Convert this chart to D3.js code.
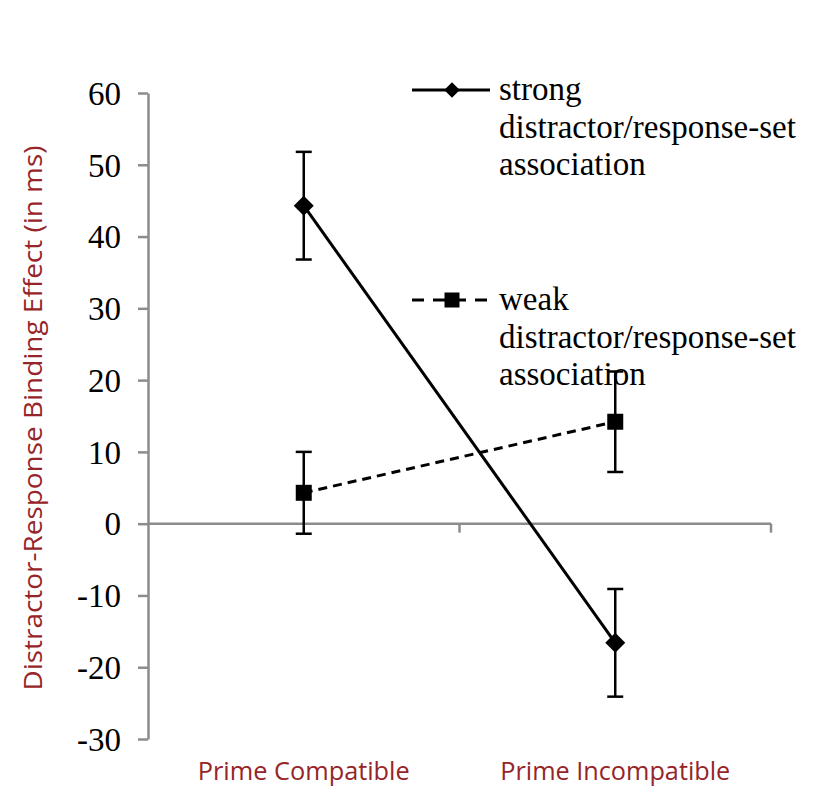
<!DOCTYPE html>
<html><head><meta charset="utf-8">
<script src="https://cdn.jsdelivr.net/npm/d3@7"></script>
<style>body{margin:0;background:#fff}
.serif{font-family:'Liberation Serif','DejaVu Serif',serif}
.sans{font-family:'Open Sans','Noto Sans',sans-serif}</style>
</head><body>
<svg id="c" width="821" height="806"></svg>
<script>
const categories = ["Prime Compatible", "Prime Incompatible"];
const strongValues = [44.3, -16.6];
const strongErrors = [7.5, 7.5];
const weakValues = [4.3, 14.2];
const weakErrors = [5.7, 7.0];
const yTicks = [60, 50, 40, 30, 20, 10, 0, -10, -20, -30];

(function () {
const svg = d3.select("#c");
const mLeft = 148, mRight = 771, mTop = 93, mBottom = 739;
const y = d3.scaleLinear().domain([-30, 60]).range([mBottom, mTop]);
const x = d3.scaleBand().domain(categories).range([mLeft, mRight]);
const axisColor = "#8c8c8c";
const red = "#962429";

// y axis
const yAxis = d3.axisLeft(y).tickValues(yTicks).tickSize(10).tickSizeOuter(0).tickPadding(17).tickFormat(d => String(d));
const gy = svg.append("g").attr("transform", `translate(${mLeft},0)`).call(yAxis);
gy.attr("font-family", null).attr("font-size", null);
gy.select(".domain").attr("stroke", axisColor).attr("stroke-width", 2.5);
gy.selectAll(".tick line").attr("stroke", axisColor).attr("stroke-width", 2.5);
gy.selectAll(".tick text").attr("class", "serif").style("font-size", "33px").attr("fill", "#000").attr("dy", "0.34em");

// x axis at zero
const gx = svg.append("g").attr("transform", `translate(0,${y(0)})`);
gx.append("line").attr("x1", mLeft).attr("x2", mRight).attr("stroke", axisColor).attr("stroke-width", 2.5);
[mLeft + x.step(), mRight].forEach(px => {
  gx.append("line").attr("x1", px).attr("x2", px).attr("y1", 0).attr("y2", 9).attr("stroke", axisColor).attr("stroke-width", 2.5);
});

// category labels
const labelWidths = [212, 230];
categories.forEach((c, i) => {
  svg.append("text").attr("class", "sans").attr("x", x(c) + x.bandwidth() / 2).attr("y", 780)
    .attr("text-anchor", "middle").style("font-size", "26px").attr("fill", red)
    .attr("textLength", labelWidths[i]).attr("lengthAdjust", "spacingAndGlyphs").text(c);
});

// y title
svg.append("text").attr("class", "sans").attr("transform", `translate(42,418) rotate(-90)`)
  .attr("text-anchor", "middle").style("font-size", "25px").attr("fill", red)
  .attr("textLength", 545).attr("lengthAdjust", "spacingAndGlyphs")
  .text("Distractor-Response Binding Effect (in ms)");

const cx = c => x(c) + x.bandwidth() / 2;
const line = d3.line().x(d => d[0]).y(d => d[1]);

function drawSeries(vals, errs, dash, diamond) {
  const pts = categories.map((c, i) => [cx(c), y(vals[i])]);
  svg.append("path").attr("d", line(pts)).attr("fill", "none").attr("stroke", "#000")
    .attr("stroke-width", 3).attr("stroke-dasharray", dash);
  categories.forEach((c, i) => {
    const px = cx(c);
    const g = svg.append("g").attr("stroke", "#000").attr("stroke-width", 2.5);
    g.append("line").attr("x1", px).attr("x2", px).attr("y1", y(vals[i] + errs[i])).attr("y2", y(vals[i] - errs[i]));
    [vals[i] + errs[i], vals[i] - errs[i]].forEach(v => {
      g.append("line").attr("x1", px - 8).attr("x2", px + 8).attr("y1", y(v)).attr("y2", y(v));
    });
    svg.append("path").attr("d", d3.symbol().type(d3.symbolSquare).size(diamond ? 200 : 256)())
      .attr("transform", `translate(${px},${y(vals[i])})` + (diamond ? " rotate(45)" : ""))
      .attr("fill", "#000");
  });
}
drawSeries(strongValues, strongErrors, null, true);
drawSeries(weakValues, weakErrors, "9,6", false);

// legend
const legendY = [90, 300];
const legendLines = [["strong", "distractor/response-set", "association"], ["weak", "distractor/response-set", "association"]];
legendLines.forEach((lines, i) => {
  const ly = legendY[i];
  svg.append("line").attr("x1", 412).attr("x2", 490).attr("y1", ly).attr("y2", ly)
    .attr("stroke", "#000").attr("stroke-width", 3).attr("stroke-dasharray", i === 1 ? "12,9" : null);
  svg.append("path").attr("d", d3.symbol().type(d3.symbolSquare).size(i === 1 ? 225 : 120)())
    .attr("transform", `translate(452,${ly})` + (i === 0 ? " rotate(45)" : "")).attr("fill", "#000");
  const t = svg.append("text").attr("class", "serif").style("font-size", "33px").attr("fill", "#000");
  lines.forEach((s, j) => t.append("tspan").attr("x", 499).attr("y", ly + 10 + j * 37.5).text(s));
});
})();
</script>
</body></html>
